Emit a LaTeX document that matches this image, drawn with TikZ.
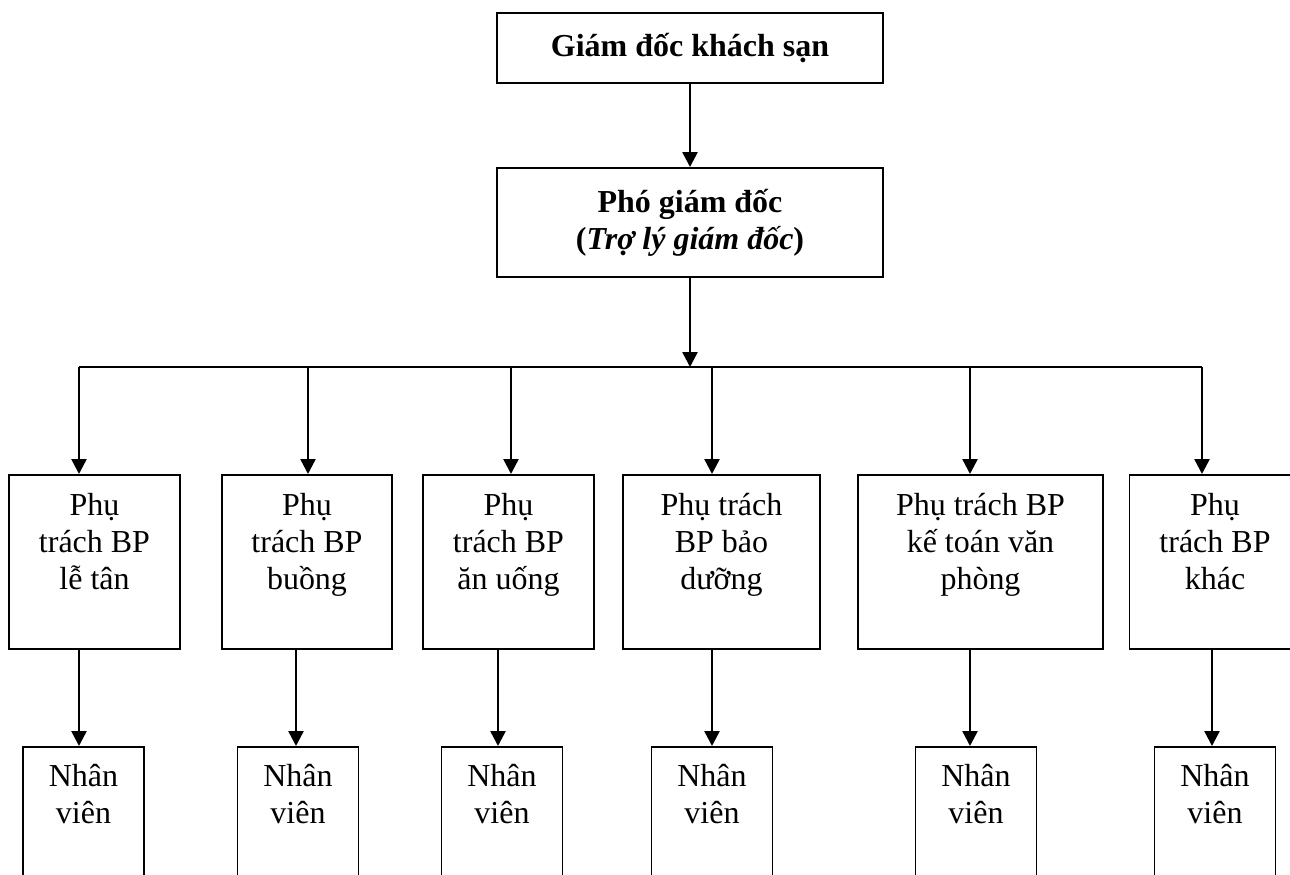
\documentclass[tikz,border=0pt]{standalone}
\usepackage{fontspec}
\setmainfont{Liberation Serif}
\usepackage{tikz}
\usetikzlibrary{arrows.meta,positioning}

% text of a box, set from its top
\newcommand{\toplines}[4]{\parbox[t][#1][t]{#2}{\centering\rule{0pt}{#3}#4}}

\begin{document}
\begin{tikzpicture}[
  every node/.style = {font=\fontsize{18.2}{21}\selectfont},
  headbox/.style = {draw, line width=1.1pt, minimum width=7.72cm, align=center, inner sep=0pt},
  unitbox/.style = {draw, line width=1.1pt, anchor=north, inner sep=0pt},
  >={Triangle[length=0.3cm, width=0.3cm]},
  link/.style = {->, line width=1.4pt}
]
\clip (0,0) rectangle (25.8,-17.48);

\node[headbox, minimum height=1.4cm] (director) at (13.8,-0.96) {\textbf{Giám đốc khách sạn}};
\node[headbox, minimum height=2.18cm] (vice) at (13.8,-4.45) {\textbf{Phó giám đốc}\\\textbf{(\textit{Trợ lý giám đốc})}};

\node[unitbox] (m1) at (1.89,-9.48) {\toplines{3.48cm}{3.42cm}{0.82cm}{Phụ\\trách BP\\lễ tân}};
\node[unitbox] (m2) at (6.14,-9.48) {\toplines{3.48cm}{3.40cm}{0.82cm}{Phụ\\trách BP\\buồng}};
\node[unitbox] (m3) at (10.17,-9.48) {\toplines{3.48cm}{3.42cm}{0.82cm}{Phụ\\trách BP\\ăn uống}};
\node[unitbox] (m4) at (14.43,-9.48) {\toplines{3.48cm}{3.94cm}{0.82cm}{Phụ trách\\BP bảo\\dưỡng}};
\node[unitbox] (m5) at (19.61,-9.48) {\toplines{3.48cm}{4.90cm}{0.82cm}{Phụ trách BP\\kế toán văn\\phòng}};
\node[unitbox] (m6) at (24.3,-9.48) {\toplines{3.48cm}{3.42cm}{0.82cm}{Phụ\\trách BP\\khác}};

\node[unitbox] (s1) at (1.67,-14.92) {\toplines{3cm}{2.42cm}{0.8cm}{Nhân\\viên}};
\node[unitbox] (s2) at (5.96,-14.92) {\toplines{3cm}{2.42cm}{0.8cm}{Nhân\\viên}};
\node[unitbox] (s3) at (10.04,-14.92) {\toplines{3cm}{2.42cm}{0.8cm}{Nhân\\viên}};
\node[unitbox] (s4) at (14.24,-14.92) {\toplines{3cm}{2.42cm}{0.8cm}{Nhân\\viên}};
\node[unitbox] (s5) at (19.52,-14.92) {\toplines{3cm}{2.42cm}{0.8cm}{Nhân\\viên}};
\node[unitbox] (s6) at (24.3,-14.92) {\toplines{3cm}{2.42cm}{0.8cm}{Nhân\\viên}};

% taps on the bus line
\coordinate (t1) at (1.58,-7.34);
\coordinate (t2) at (6.16,-7.34);
\coordinate (t3) at (10.22,-7.34);
\coordinate (t4) at (14.24,-7.34);
\coordinate (t5) at (19.40,-7.34);
\coordinate (t6) at (24.04,-7.34);

\draw[link] (director) -- (vice);
\draw[link] (vice) -- (vice |- t1);
\draw[line width=1.1pt] (t1) -- (t6);
\foreach \i/\x in {1/1.58, 2/5.92, 3/9.96, 4/14.24, 5/19.40, 6/24.24} {
  \draw[link] (t\i) -- (t\i |- m\i.north);
  \draw[link] (m\i.south -| \x,0) -- (s\i.north -| \x,0);
}
\end{tikzpicture}
\end{document}
